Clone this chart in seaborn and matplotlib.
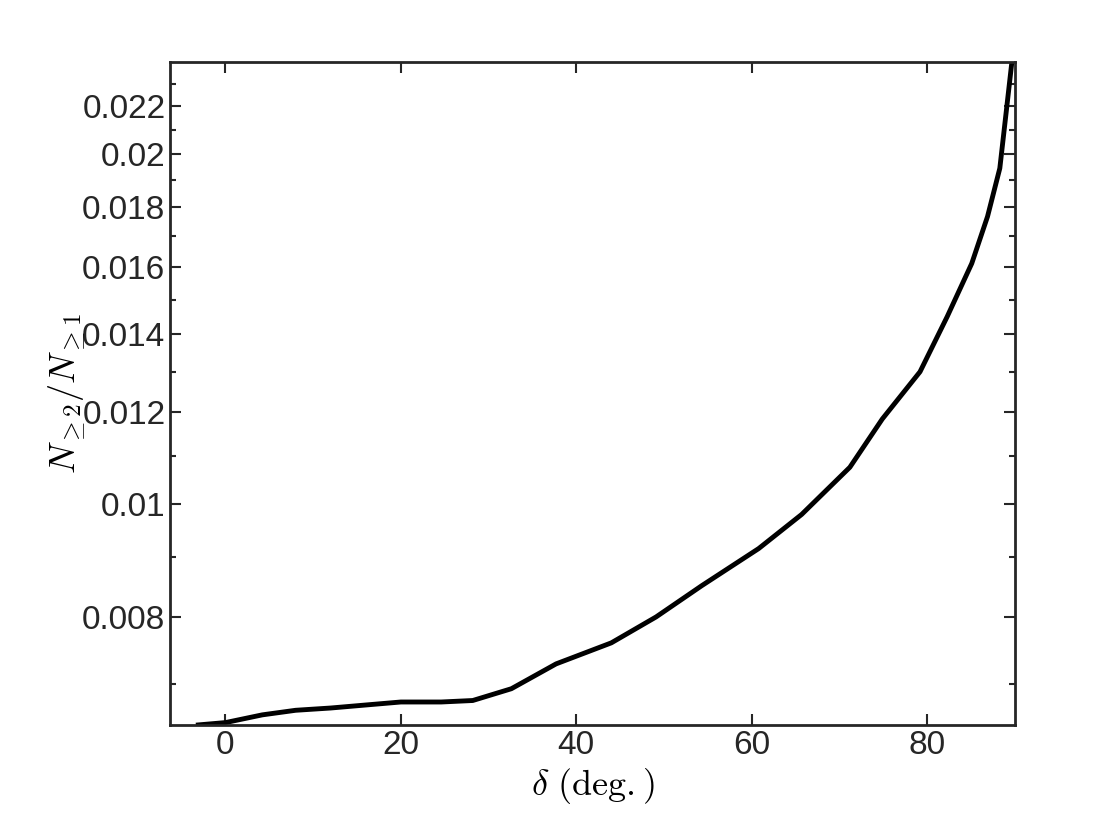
import matplotlib
matplotlib.use("Agg")
import matplotlib.pyplot as plt
import seaborn as sns
import pandas as pd
from matplotlib.ticker import FixedLocator, FixedFormatter, NullFormatter

delta = [-3.1, 0, 4.2, 8, 12, 16, 20, 24.6, 28.2, 32.6, 37.7, 44, 49.1, 54.3,
         60.8, 65.7, 71.2, 74.9, 79.2, 82.3, 85.1, 86.9, 88.3, 89.7]
ratio = [0.00646, 0.00649, 0.00659, 0.00665, 0.00668, 0.00672, 0.00676, 0.00676,
         0.00678, 0.00694, 0.00729, 0.00760, 0.00800, 0.00851, 0.00916, 0.00980,
         0.01076, 0.01184, 0.01300, 0.01450, 0.01611, 0.01768, 0.01945, 0.0241]
yticks = [0.008, 0.01, 0.012, 0.014, 0.016, 0.018, 0.02, 0.022]
ylabels = ["0.008", "0.01", "0.012", "0.014", "0.016", "0.018", "0.02", "0.022"]
xticks = [0, 20, 40, 60, 80]

plt.rcParams["font.family"] = "Liberation Sans"
plt.rcParams["mathtext.fontset"] = "cm"
fig = plt.figure(figsize=(11.2, 8.4), dpi=100)
ax = fig.add_axes([0.152, 0.137, 0.754, 0.789])
df = pd.DataFrame({"d": delta, "r": ratio})
sns.lineplot(data=df, x="d", y="r", ax=ax, color="black", lw=3.5)
ax.set_yscale("log")
ax.set_xlim(-6.3, 90)
ax.set_ylim(0.00646, 0.0240)
ax.yaxis.set_major_locator(FixedLocator(yticks))
ax.yaxis.set_major_formatter(FixedFormatter(ylabels))
ax.yaxis.set_minor_locator(FixedLocator([0.007, 0.009, 0.011, 0.013, 0.015, 0.017, 0.019, 0.021, 0.023]))
ax.yaxis.set_minor_formatter(NullFormatter())
ax.set_xticks(xticks)
ax.tick_params(which="both", direction="in", top=True, right=True, labelsize=24, width=1.5, colors="#262626")
ax.tick_params(which="major", length=8)
ax.tick_params(which="minor", length=4)
for lab in ax.get_xticklabels() + ax.get_yticklabels():
    lab.set_fontweight("medium")
for s in ax.spines.values():
    s.set_linewidth(2)
    s.set_color("#262626")
ax.set_xlabel(r"$\delta\ \mathrm{(deg.)}$", fontsize=26, labelpad=4)
ax.set_ylabel(r"$N_{\geq 2}/N_{\geq 1}$", fontsize=26, labelpad=-4)
fig.savefig("out.png", dpi=100)
